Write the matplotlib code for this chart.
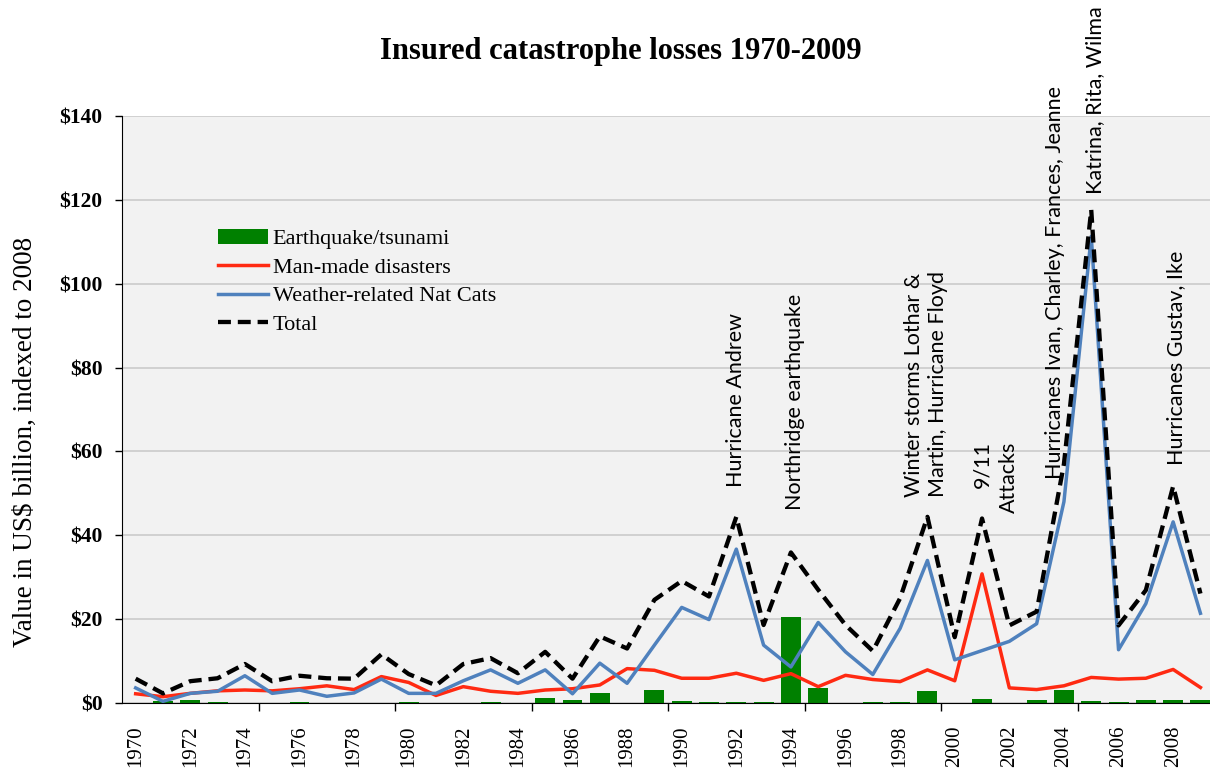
import matplotlib
matplotlib.use('Agg')
import matplotlib.pyplot as plt
import numpy as np

# --- Data (US$ billion, indexed to 2008) ---
years = list(range(1970, 2010))
quake = [0, 0.5, 0.8, 0.2, 0, 0, 0.3, 0, 0, 0, 0.2, 0, 0, 0.2, 0, 1.1, 0.6, 2.3, 0, 3.0,
         0.4, 0.15, 0.15, 0.15, 20.6, 3.6, 0, 0.2, 0.2, 2.9, 0.1, 1.0, 0, 0.7, 3.1, 0.4,
         0.2, 0.7, 0.6, 0.7]
manmade = [2.2, 1.5, 2.3, 2.9, 3.1, 2.9, 3.4, 4.1, 3.2, 6.3, 4.9, 1.8, 3.9, 2.8, 2.3, 3.1,
           3.4, 4.3, 8.2, 7.8, 5.9, 5.9, 7.1, 5.4, 7.0, 3.9, 6.6, 5.6, 5.1, 7.9, 5.3, 30.8,
           3.6, 3.2, 4.1, 6.1, 5.7, 5.9, 8.0, 3.7]
weather = [3.6, 0.4, 2.3, 2.8, 6.5, 2.3, 3.1, 1.6, 2.4, 5.7, 2.3, 2.3, 5.3, 7.9, 4.7, 7.9,
           2.2, 9.5, 4.7, 13.8, 22.8, 19.9, 36.7, 13.8, 8.6, 19.2, 12.2, 6.8, 17.8, 34.0,
           10.3, 12.5, 14.7, 18.9, 48.0, 111.3, 12.7, 23.7, 43.2, 21.4]
total = [5.8, 2.3, 5.2, 5.9, 9.3, 5.2, 6.5, 5.9, 5.8, 11.6, 6.9, 4.2, 9.3, 10.7, 7.1, 12.2,
         5.8, 15.9, 13.0, 24.6, 29.1, 25.4, 44.4, 18.6, 35.9, 27.0, 18.6, 12.4, 25.0, 44.4,
         15.7, 44.0, 18.5, 21.8, 57.0, 117.6, 18.5, 26.9, 51.7, 26.1]

# event labels: (text, year, value at bottom of label)
events = [
    ("Hurricane Andrew", 1992, 51.5),
    ("Northridge earthquake", 1994.15, 46.0),
    ("Winter storms Lothar &\nMartin, Hurricane Floyd", 1998.95, 49.1),
    ("9/11", 2001, 51.3),
    ("Attacks", 2002, 45.3),
    ("Hurricanes Ivan, Charley, Frances, Jeanne", 2003.68, 53.5),
    ("Katrina, Rita, Wilma", 2005.14, 121.4),
    ("Hurricanes Gustav, Ike", 2008.1, 56.8),
]

SERIF = 'Liberation Serif'
SANS = 'Lato'

fig = plt.figure(figsize=(12.1, 7.73), dpi=100)
ax = fig.add_axes([122 / 1210, 70 / 773, 1088 / 1210, 587 / 773])
ax.set_facecolor('#f2f2f2')

x = np.arange(len(years))
bars = ax.bar(x, quake, width=0.73, color='#008000', label='Earthquake/tsunami', zorder=2)
l1, = ax.plot(x, manmade, color='#ff2a12', lw=2.5, label='Man-made disasters', zorder=3)
l2, = ax.plot(x, weather, color='#4f81bd', lw=2.5, label='Weather-related Nat Cats', zorder=4)
l3, = ax.plot(x, total, color='black', lw=3.1, dashes=(3, 1.6), label='Total', zorder=5)

ax.set_ylim(0, 140)
ax.set_xlim(-0.5, 39.35)
ax.set_yticks(np.arange(0, 141, 20))
ax.set_yticklabels([f'${v}' for v in range(0, 141, 20)],
                   fontfamily=SERIF, fontweight='bold', fontsize=15.5)
ax.yaxis.grid(True, color='#c8c8c8', lw=1.1, zorder=0)
ax.set_axisbelow(True)
ax.tick_params(axis='y', direction='out', length=5, width=1, pad=9)

ax.set_xticks(x[::2])
ax.set_xticklabels([str(y) for y in years[::2]], rotation=90,
                   fontfamily=SERIF, fontsize=15)
ax.set_xticks(np.arange(4.5, 39, 5), minor=True)
ax.tick_params(axis='x', which='major', length=0, pad=16)
ax.tick_params(axis='x', which='minor', direction='out', length=6, width=1)

for s in ['top', 'right']:
    ax.spines[s].set_visible(False)
ax.spines['left'].set_color('black')
ax.spines['bottom'].set_color('black')

for txt, yr, yv in events:
    ax.text(yr - 1970, yv, txt, rotation=90, ha='center', va='bottom',
            multialignment='left', fontfamily=SANS, fontsize=15.5, zorder=6)

ax.legend([bars, l1, l2, l3],
          ['Earthquake/tsunami', 'Man-made disasters', 'Weather-related Nat Cats', 'Total'],
          loc='upper left', bbox_to_anchor=(0.088, 0.808), frameon=False,
          prop={'family': SERIF, 'size': 16}, borderpad=0, handlelength=2.25,
          handletextpad=0.23, labelspacing=0.36, borderaxespad=0)

fig.text(0.513, 0.933, 'Insured catastrophe losses 1970-2009', ha='center',
         va='center', fontfamily=SERIF, fontweight='bold', fontsize=22)
fig.text(25 / 1210, 0.428, 'Value in US$ billion, indexed to 2008', rotation=90,
         ha='center', va='center', fontfamily=SERIF, fontsize=19.5)

plt.savefig('out.png', dpi=100)
plt.close()
